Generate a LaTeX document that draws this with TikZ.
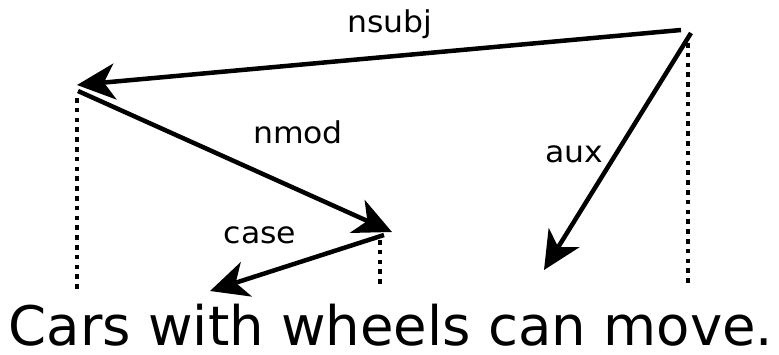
\documentclass[tikz,border=0pt]{standalone}
\usepackage{fontspec}
\setmainfont{DejaVu Sans}
\usetikzlibrary{arrows.meta}
\tikzset{
  dep/.style={line width=4.5pt, -{Stealth[length=38pt,width=36pt,inset=11pt]}},
  proj/.style={line width=4.5pt, dash pattern=on 4.5pt off 5.3pt},
  lbl/.style={inner sep=0pt, anchor=base, xscale=1.05, transform shape, font=\fontsize{30}{30}\selectfont},
  sent/.style={inner sep=0pt, anchor=base, text depth=0pt, xscale=1.0, transform shape, font=\fontsize{54.5}{54.5}\selectfont}
}
\begin{document}
\begin{tikzpicture}[x=1pt,y=-1pt]
\useasboundingbox (0,0) rectangle (779,354);
% word anchor points
\coordinate (carsTop) at (77,85);
\coordinate (carsOut) at (78,91);
\coordinate (carsA) at (77,98);
\coordinate (carsB) at (77,290);
\coordinate (wheelsIn) at (392,232);
\coordinate (wheelsOut) at (384,235);
\coordinate (wheelsA) at (380,240);
\coordinate (wheelsB) at (380,284);
\coordinate (withIn) at (210,291);
\coordinate (canIn) at (544,270);
\coordinate (moveOut1) at (681,30);
\coordinate (moveOut2) at (691,33);
\coordinate (moveA) at (688,43);
\coordinate (moveB) at (688,284);
% sentence
\node[sent] (sentence) at (391,345) {Cars with wheels can move.};
% projection lines
\draw[proj] (carsA) -- (carsB);
\draw[proj] (wheelsA) -- (wheelsB);
\draw[proj] (moveA) -- (moveB);
% dependency arrows
\draw[dep] (moveOut1) -- (carsTop);
\draw[dep] (carsOut) -- (wheelsIn);
\draw[dep] (wheelsOut) -- (withIn);
\draw[dep] (moveOut2) -- (canIn);
% labels
\node[lbl] (nsubj) at (390,32) {nsubj};
\node[lbl] (nmod) at (298,143) {nmod};
\node[lbl] (aux) at (574,162) {aux};
\node[lbl] (case) at (260,243) {case};
\end{tikzpicture}
\end{document}
